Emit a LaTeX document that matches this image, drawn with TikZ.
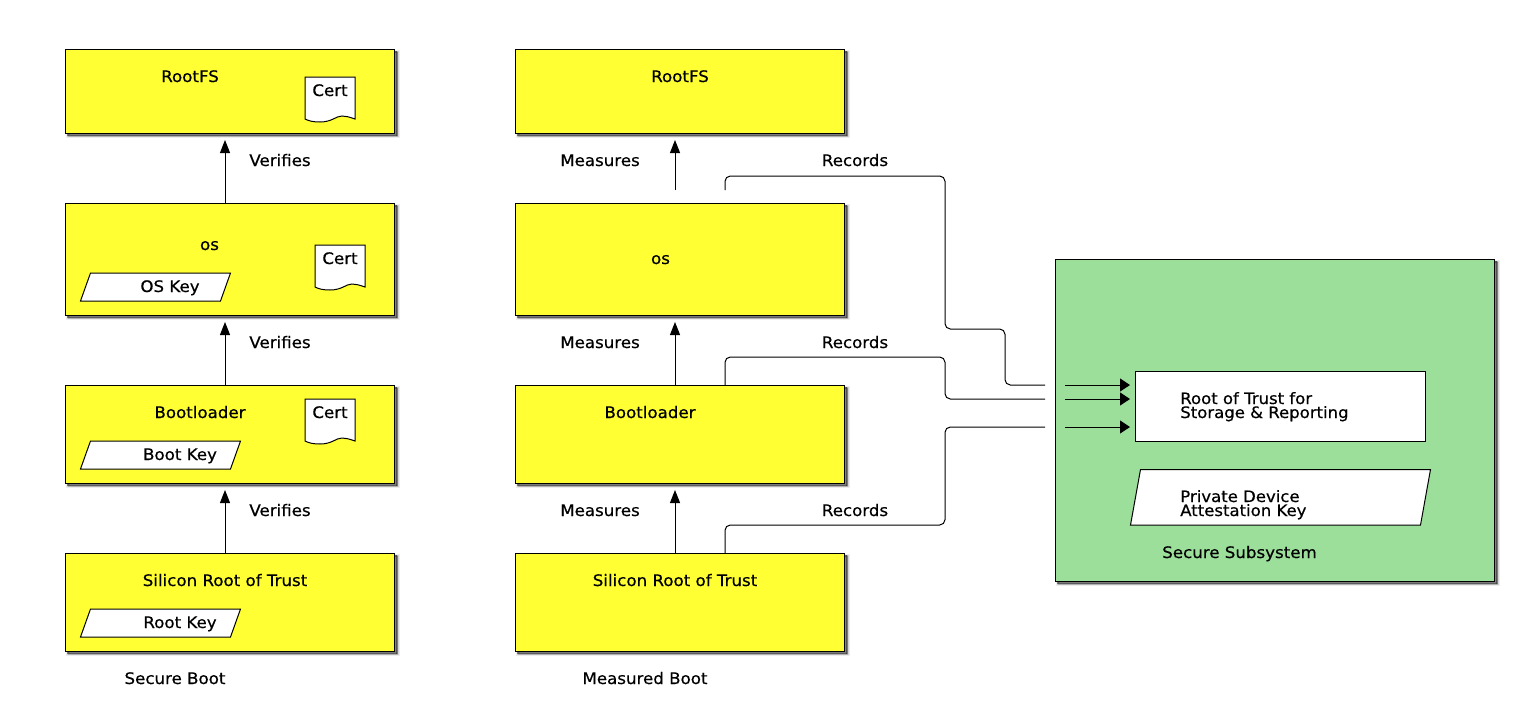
\documentclass[tikz,border=0pt]{standalone}
\usepackage{fontspec}
\setmainfont[FakeBold=0.5,FakeStretch=1.05]{DejaVu Sans}
\usetikzlibrary{arrows.meta,shadows}
\definecolor{boxyellow}{HTML}{FFFF33}
\definecolor{boxgreen}{HTML}{9BDF9B}
\tikzset{
  x=0.75pt,y=-0.75pt,
  softshadow/.style={
    preaction={draw=black,fill=black,opacity=0.07,line width=3.4pt,transform canvas={shift={(2.25pt,-2.25pt)}}},
    preaction={draw=black,fill=black,opacity=0.10,line width=2pt,transform canvas={shift={(2.25pt,-2.25pt)}}},
    preaction={draw=black,fill=black,opacity=0.16,line width=0.8pt,transform canvas={shift={(2.25pt,-2.25pt)}}},
    preaction={draw=black,fill=black,opacity=0.25,line width=0pt,transform canvas={shift={(1.5pt,-1.5pt)}}}},
  blockbox/.style={draw=black,line width=0.75pt,inner sep=0pt,outer sep=0pt,softshadow,minimum width=#1*0.75pt},
  yellowbox/.style={blockbox=329.6,fill=boxyellow},
  whitebox/.style={draw=black,line width=0.75pt,fill=white},
  lab/.style={anchor=base,inner sep=0pt,font=\fontsize{11.9}{12}\selectfont,text=black},
  lableft/.style={anchor=base west,inner sep=0pt,align=left,font=\fontsize{11.8}{10.5}\selectfont,text=black},
  vflow/.style={draw=black,line width=0.75pt,-{Triangle[length=9.75pt,width=7.5pt]}},
  hflow/.style={draw=black,line width=0.75pt,-{Triangle[length=7.5pt,width=9.75pt]}},
  rec/.style={draw=black,line width=0.75pt,rounded corners=4pt},
}
\newcommand{\yelbox}[4]{\node[yellowbox,minimum height=#4*0.75pt] (#1) at (#2,#3) {};}
\newcommand{\certdoc}[3]{% name, x, y top
  \begin{scope}[shift={(#2,#3)}]
  \draw[whitebox] (0,0) -- (50,0) -- (50,42)
    .. controls (44,40) and (41,39) .. (37,39)
    .. controls (31,39) and (27,45) .. (15,45)
    .. controls (8,45) and (4,44) .. (0,42) -- cycle;
  \node[lab] (#1) at (25,19) {Cert};
  \end{scope}}
\newcommand{\keyshape}[5]{% xbl, xbr, ytop, ybot, slant
  \draw[whitebox] (#1,#4) -- (#2,#4) -- ({#2+#5},#3) -- ({#1+#5},#3) -- cycle;}
\begin{document}
\begin{tikzpicture}
\useasboundingbox[fill=white] (0,0) rectangle (1520,714);
% left column
\yelbox{la}{230}{91}{84}
\yelbox{lb}{230}{259}{112}
\yelbox{lc}{230}{434}{98}
\yelbox{ld}{230}{602}{98}
% middle column
\yelbox{ma}{680}{91}{84}
\yelbox{mb}{680}{259}{112}
\yelbox{mc}{680}{434}{98}
\yelbox{md}{680}{602}{98}
% secure subsystem
\node[blockbox=439.6,fill=boxgreen,minimum height=322*0.75pt] (sub) at (1275,420) {};
\node[whitebox,inner sep=0pt,outer sep=0pt,minimum width=290*0.75pt,minimum height=70*0.75pt] (rot) at (1280,406) {};
\keyshape{1130.5}{1420.5}{469.5}{525}{10}
% left inner shapes
\certdoc{ca}{305}{77}
\certdoc{cb}{315}{245}
\certdoc{cc}{305}{399}
\keyshape{80.5}{220.5}{273}{301}{10}
\keyshape{80.5}{230.5}{441}{469}{10}
\keyshape{80.5}{230.5}{609}{637}{10}
% labels
\node[lab] (t1) at (190,82) {RootFS};
\node[lab] (t2) at (209.5,250) {os};
\node[lab] (t3) at (200,418) {Bootloader};
\node[lab] (t4) at (225,586) {Silicon Root of Trust};
\node[lab] (t5) at (170,292) {OS Key};
\node[lab] (t6) at (180,460) {Boot Key};
\node[lab] (t7) at (180,628) {Root Key};
\node[lab] (t8) at (175,684) {Secure Boot};
\node[lab] (u1) at (680,82) {RootFS};
\node[lab] (u2) at (660.5,264) {os};
\node[lab] (u3) at (650,418) {Bootloader};
\node[lab] (u4) at (675,586) {Silicon Root of Trust};
\node[lab] (u5) at (645,684) {Measured Boot};
\node[lab] (v1) at (280,166) {Verifies};
\node[lab] (v2) at (280,348) {Verifies};
\node[lab] (v3) at (280,516) {Verifies};
\node[lab] (m1) at (600,166) {Measures};
\node[lab] (m2) at (600,348) {Measures};
\node[lab] (m3) at (600,516) {Measures};
\node[lab] (r1) at (855,166) {Records};
\node[lab] (r2) at (855,348) {Records};
\node[lab] (r3) at (855,516) {Records};
\node[lableft] (w1) at (1180,418) {Root of Trust for\\Storage \& Reporting};
\node[lableft] (w2) at (1180,516) {Private Device\\Attestation Key};
\node[lab] (w3) at (1239.5,558) {Secure Subsystem};
% helpers
\coordinate (lx) at (225,0);
\coordinate (mx) at (675,0);
\coordinate (rx) at (725,0);
\coordinate (lt1) at (225,140);
\coordinate (lt2) at (225,322);
\coordinate (lt3) at (225,490);
\coordinate (mt1) at (675,140);
\coordinate (mt2) at (675,322);
\coordinate (mt3) at (675,490);
% verify arrows
\draw[vflow] (lx |- lb.north) -- (lt1);
\draw[vflow] (lx |- lc.north) -- (lt2);
\draw[vflow] (lx |- ld.north) -- (lt3);
% measure arrows
\coordinate (mstub) at (675,190);
\draw[vflow] (mstub) -- (mt1);
\draw[vflow] (mx |- mc.north) -- (mt2);
\draw[vflow] (mx |- md.north) -- (mt3);
% records
\coordinate (e1) at (1045,385);
\coordinate (e2) at (1045,399);
\coordinate (e3) at (1045,427);
\coordinate (rstub) at (725,190);
\draw[rec] (rstub) -- (725,176) -- (945,176) -- (945,329) -- (1005,329) -- (1005,385) -- (e1);
\draw[rec] (rx |- mc.north) -- (725,357) -- (945,357) -- (945,399) -- (e2);
\draw[rec] (rx |- md.north) -- (725,525) -- (945,525) -- (945,427) -- (e3);
% arrows into root of trust
\coordinate (s1) at (1065,385);
\coordinate (s2) at (1065,399);
\coordinate (s3) at (1065,427);
\coordinate (h1) at (1130,385);
\coordinate (h2) at (1130,399);
\coordinate (h3) at (1130,427);
\draw[hflow] (s1) -- (h1);
\draw[hflow] (s2) -- (h2);
\draw[hflow] (s3) -- (h3);
\end{tikzpicture}
\end{document}
